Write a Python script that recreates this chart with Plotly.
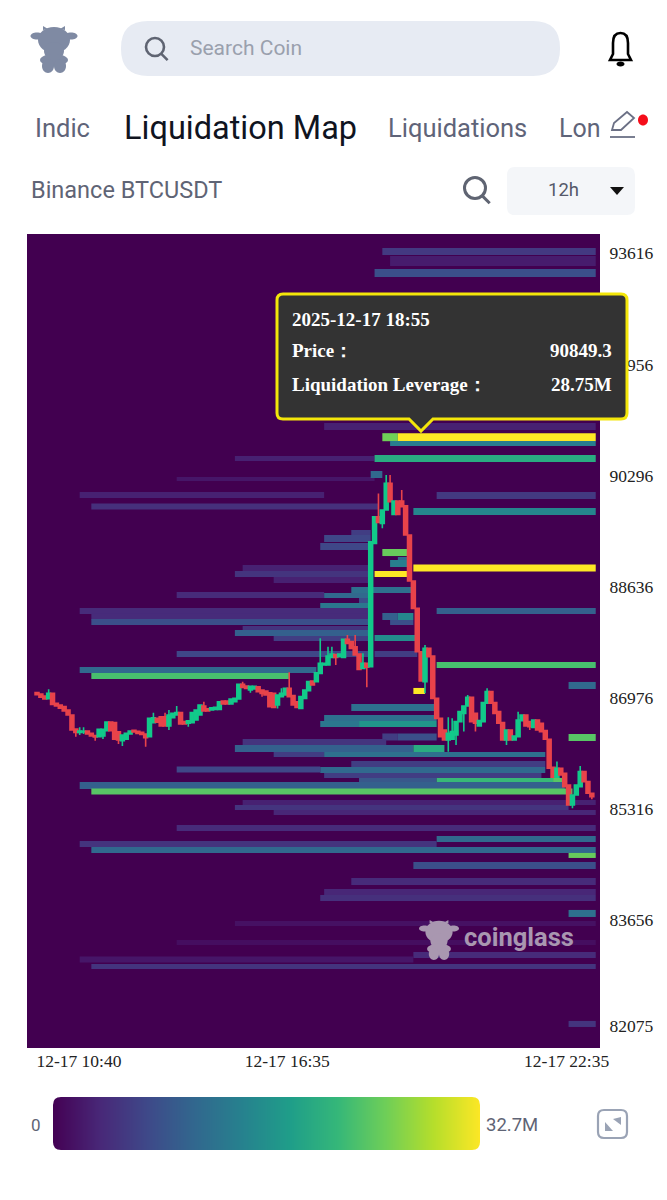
import plotly.graph_objects as go

W, H = 667, 1200

# ---- data ----
tick_prices = [93616, 91956, 90296, 88636, 86976, 85316, 83656, 82075]
time_labels = ["12-17 10:40", "12-17 16:35", "12-17 22:35"]
time_label_pos = [10.8, 64.5, 136.5]

candle_open = [87056,87036,87006,86966,87046,86896,86871,86847,86797,86722,86513,86463,86468,86483,86448,86414,86399,86409,86488,86618,
 86608,86473,86339,86359,86438,86493,86478,86463,86438,86399,86608,86672,86697,86697,86558,86682,86722,86757,86623,86598,
 86608,86647,86722,86856,86816,86796,86806,86806,86931,86931,86886,86921,86961,87180,87155,87095,87110,87145,87095,87080,
 87055,87045,86871,86996,87021,87120,87011,86921,86821,86971,87085,87230,87220,87344,87468,87468,87583,87623,87593,87583,
 87852,87817,87742,87633,87419,87493,87443,89285,89683,89583,89782,90181,89718,89917,89917,89847,89409,88722,88314,87667,
 87219,87717,87603,86971,86672,86498,86349,86359,86424,86623,86747,86857,86986,86747,86558,86623,86897,87071,86907,86772,
 86608,86349,86498,86349,86399,86638,86722,86623,86538,86648,86598,86489,86359,85941,85792,85926,85852,85677,85379,85528,
 85652,85876,85727,85553]
candle_high = [87070,87036,87006,87105,87046,86896,86871,86847,86797,86722,86513,86538,86538,86483,86448,86414,86508,86508,86618,86618,
 86608,86473,86424,86448,86483,86493,86478,86463,86438,86672,86757,86672,86697,86757,86797,86747,86856,86757,86623,86637,
 86757,86796,86871,86921,86816,86831,86836,86921,86931,86931,86961,86971,87180,87220,87155,87150,87150,87145,87095,87080,
 87055,87045,87021,87120,87120,87359,87011,86921,86996,87095,87220,87230,87354,87867,87493,87742,87742,87623,87633,87852,
 87916,87817,87916,87633,87643,87493,89310,89683,90031,89782,90305,90305,89917,89917,90081,89847,89409,88722,88314,87667,
 87767,87717,87603,86971,86672,86498,86688,86673,86623,86772,86857,87020,86986,86747,86638,86907,87121,87071,86907,86772,
 86608,86498,86498,86409,86772,86722,86722,86623,86648,86648,86598,86489,86359,85941,86026,85926,85852,85677,85528,85677,
 85961,85876,85727,85553]
candle_low = [87026,86986,86961,86966,86881,86856,86822,86782,86722,86498,86399,86424,86438,86438,86409,86339,86399,86364,86488,86488,
 86359,86289,86259,86359,86438,86468,86448,86433,86249,86399,86608,86613,86558,86558,86498,86682,86722,86588,86588,86548,
 86608,86647,86722,86782,86782,86796,86806,86806,86886,86886,86886,86921,86961,87135,87120,87055,87110,87070,86996,87021,
 86846,86836,86821,86996,87021,86996,86871,86836,86821,86971,87085,87170,87220,87344,87468,87468,87583,87468,87593,87583,
 87792,87717,87618,87404,87419,87135,87443,89285,89598,89509,89782,89907,89718,89718,89832,89409,88722,88314,87667,87229,
 87045,87593,86971,86672,86398,86349,86175,86359,86275,86623,86474,86857,86623,86474,86558,86623,86897,86897,86747,86598,
 86349,86275,86349,86349,86399,86638,86558,86498,86538,86498,86474,86359,85926,85792,85792,85827,85652,85379,85329,85528,
 85652,85727,85553,85463]
candle_close = [87026,86986,86961,87046,86881,86856,86822,86782,86722,86498,86463,86483,86478,86438,86409,86394,86508,86508,86618,86488,
 86359,86349,86424,86448,86483,86468,86448,86433,86384,86672,86682,86613,86558,86558,86722,86747,86757,86588,86588,86637,
 86757,86796,86871,86782,86782,86831,86836,86921,86886,86886,86961,86971,87180,87135,87120,87150,87150,87070,87045,87021,
 86846,86836,87021,87045,87120,86996,86871,86836,86996,87095,87220,87170,87354,87493,87493,87603,87633,87583,87633,87852,
 87792,87717,87618,87404,87493,87434,89310,89683,89598,89782,90181,89907,89917,89718,89832,89409,88722,88314,87667,87229,
 87717,87593,86971,86672,86398,86349,86449,86474,86623,86772,86857,86986,86623,86598,86638,86907,87071,86897,86747,86598,
 86349,86498,86349,86409,86648,86722,86558,86548,86648,86498,86474,86359,85926,85792,85926,85827,85652,85379,85528,85677,
 85876,85727,85553,85503]

# liquidation levels: price, thickness in price units, first/last candle index, size in millions
level_price = [93642,93500,93321,91029,90552,90552,90246,90313,90007,90000,89835,89760,89447,89357,89238,
 89059,88984,88917,88917,88827,88738,88514,88588,88506,88432,88350,88275,88275,88193,88193,88193,
 88111,88103,88021,87946,87872,87864,87633,87633,87469,87394,87304,87163,86834,86677,86588,86588,
 86386,86394,86394,86312,86222,86222,86132,86132,85991,85909,85901,85819,85737,85737,85737,85670,
 85580,85416,85341,85266,85035,84871,84796,84707,84625,84475,84236,84080,83990,83759,83609,83326,
 83139,83072,82967,82109,90870,90870,90776,89148,88827,87081]
level_size = [105,150,120,105,75,105,60,105,90,105,90,105,75,105,105,
 45,105,105,90,90,90,90,90,75,75,90,90,90,90,105,105,
 90,75,60,90,90,75,90,90,90,90,90,105,105,90,90,90,
 105,105,105,105,105,105,75,75,90,90,90,75,90,90,90,105,
 90,75,75,75,90,90,90,90,75,105,105,90,90,105,75,75,
 90,90,75,90,120,120,75,105,90,90]
level_start = [89,91,87,74,51,87,36,86,11,103,14,97,81,74,73,
 93,91,97,53,51,61,36,81,74,83,73,11,103,14,89,93,
 14,91,53,51,87,61,36,87,103,11,14,137,81,74,73,83,
 137,89,93,53,51,97,61,74,81,36,73,74,83,103,133,11,
 14,53,51,61,36,103,11,14,137,97,81,74,73,137,51,36,
 97,11,14,137,89,93,91,89,87,97]
level_end = [144,144,144,144,87,144,87,89,74,144,88,144,86,86,86,
 96,96,144,86,86,86,74,97,86,86,86,86,144,86,93,97,
 86,97,86,86,98,86,86,98,144,72,65,144,103,103,83,103,
 144,93,103,90,97,105,74,131,131,73,131,130,103,133,136,136,
 138,144,137,144,144,144,103,144,144,144,144,144,144,144,144,144,
 144,97,144,144,93,144,144,96,96,100]
level_value = [5.5,2.5,8,3,3,20,2,11,3,5.5,4.5,15,6,7,7,
 11,14,32.7,3,5,3,4,12,11,8,13,4,10,4,10,15,
 8,8,5,10,16,6,7,6,23,11,23,11,12,12,13,17,
 24,6,8,5,10,20,6,12,6,7,11,6,9,22,24,10,
 24,3,5,3.5,4,11,5,11,25,8,4,3.5,4.5,12,1.5,1.2,
 4,2,5,5,25.5,32.7,14,25,32.7,32.7]

colorbar_values = [0, 4, 8, 12, 16, 20, 24, 28, 32.7]

# ---- helpers for the page furniture (paper coordinates from pixels) ----
def P(x, y):
    return f"{x / W:.5f},{1 - y / H:.5f}"

def round_rect(x0, y0, x1, y1, r):
    return (f"M{P(x0 + r, y0)} L{P(x1 - r, y0)} Q{P(x1, y0)} {P(x1, y0 + r)} L{P(x1, y1 - r)} "
            f"Q{P(x1, y1)} {P(x1 - r, y1)} L{P(x0 + r, y1)} Q{P(x0, y1)} {P(x0, y1 - r)} "
            f"L{P(x0, y0 + r)} Q{P(x0, y0)} {P(x0 + r, y0)} Z")

def ellipse(cx, cy, rx, ry):
    k = 0.5523
    return (f"M{P(cx - rx, cy)} C{P(cx - rx, cy - k * ry)} {P(cx - k * rx, cy - ry)} {P(cx, cy - ry)} "
            f"C{P(cx + k * rx, cy - ry)} {P(cx + rx, cy - k * ry)} {P(cx + rx, cy)} "
            f"C{P(cx + rx, cy + k * ry)} {P(cx + k * rx, cy + ry)} {P(cx, cy + ry)} "
            f"C{P(cx - k * rx, cy + ry)} {P(cx - rx, cy + k * ry)} {P(cx - rx, cy)} Z")

def poly(pts):
    return "M" + " L".join(P(*p) for p in pts) + " Z"

shapes = []
def add(path, fill="rgba(0,0,0,0)", line=None, lw=0):
    shapes.append(dict(type="path", xref="paper", yref="paper", path=path, fillcolor=fill,
                       line=dict(color=line or "rgba(0,0,0,0)", width=lw), layer="above"))

def cow(cx, top, s, color):
    add(ellipse(cx - 17 * s, top + 10 * s, 6.5 * s, 3.5 * s), fill=color)
    add(ellipse(cx + 17 * s, top + 10 * s, 6.5 * s, 3.5 * s), fill=color)
    add(poly([(cx - 11 * s, top + 4 * s), (cx - 11 * s, top), (cx - 6 * s, top + 3 * s)]), fill=color)
    add(poly([(cx + 11 * s, top + 4 * s), (cx + 11 * s, top), (cx + 6 * s, top + 3 * s)]), fill=color)
    add(ellipse(cx, top + 14 * s, 16 * s, 13 * s), fill=color)
    add(ellipse(cx, top + 25 * s, 10 * s, 9 * s), fill=color)
    add(ellipse(cx, top + 34 * s, 14 * s, 6 * s), fill=color)
    add(ellipse(cx - 6 * s, top + 40 * s, 6 * s, 7 * s), fill=color)
    add(ellipse(cx + 6 * s, top + 40 * s, 6 * s, 7 * s), fill=color)

def magnifier(cx, cy, r, color, lw):
    add(ellipse(cx, cy, r, r), line=color, lw=lw)
    add(f"M{P(cx + r * .65, cy + r * .7)} L{P(cx + r * 1.4, cy + r * 1.45)}", line=color, lw=lw)

# header
cow(54, 26, 1.0, "#7f8aa3")
add(round_rect(121, 21, 560, 76, 27), fill="#e7ebf3")
magnifier(155, 47, 9, "#5f6472", 2.6)
add(f"M{P(610, 60)} L{P(631, 60)} L{P(628, 54)} L{P(628, 43)} Q{P(628, 33)} {P(620.5, 33)} Q{P(613, 33)} {P(613, 43)} L{P(613, 54)} Z",
    line="#000000", lw=2.6)
add(ellipse(620.5, 64, 4, 2.5), fill="#000000")
# pencil + red dot
add(poly([(612, 130), (614, 123), (627, 112), (634, 118), (621, 130)]), line="#6b7085", lw=1.8)
add(f"M{P(610, 137)} L{P(635, 137)}", line="#6b7085", lw=1.8)
add(ellipse(643, 120, 5, 5.5), fill="#f50d1a")
# selector
magnifier(475, 188, 10.5, "#5f6472", 3)
add(round_rect(507, 167, 635, 215, 8), fill="#f4f6f9")
add(poly([(610, 187), (624, 187), (617, 195)]), fill="#111111")
# watermark
cow(439, 920, 0.85, "#a997b0")
# tooltip
tb = (f"M{P(283, 294)} L{P(621, 294)} Q{P(627, 294)} {P(627, 300)} L{P(627, 413)} Q{P(627, 419)} {P(621, 419)} "
      f"L{P(433, 419)} L{P(421, 431)} L{P(409, 419)} L{P(283, 419)} Q{P(277, 419)} {P(277, 413)} "
      f"L{P(277, 300)} Q{P(277, 294)} {P(283, 294)} Z")
add(tb, fill="#333333", line="#f3e60a", lw=3)
# expand icon
add(round_rect(598, 1110, 627, 1138, 6), line="#9aa3b5", lw=2.2)
add(poly([(613, 1119), (621, 1117), (621, 1125)]), fill="#9aa3b5")
add(poly([(605, 1122), (605, 1131), (613, 1131)]), fill="#9aa3b5")
# rounded corners of the gradient strip
for (cx, cy, sx, sy) in [(53, 1097, 1, 1), (480, 1097, -1, 1), (53, 1150, 1, -1), (480, 1150, -1, -1)]:
    r = 8
    add(f"M{P(cx, cy)} L{P(cx + sx * r, cy)} Q{P(cx, cy)} {P(cx, cy + sy * r)} Z", fill="#ffffff")

# ---- figure ----
fig = go.Figure()
fig.add_trace(go.Bar(
    orientation="h", y=level_price, base=level_start,
    x=[e - s for s, e in zip(level_start, level_end)], width=level_size,
    marker=dict(color=level_value, colorscale="Viridis", cmin=0, cmax=32.7, line=dict(width=0)),
    hoverinfo="skip", showlegend=False))
fig.add_trace(go.Candlestick(
    x=list(range(len(candle_open))), open=candle_open, high=candle_high, low=candle_low, close=candle_close,
    increasing=dict(line=dict(color="#12c98a", width=1.6), fillcolor="#12c98a"),
    decreasing=dict(line=dict(color="#e8434a", width=1.6), fillcolor="#e8434a"),
    whiskerwidth=0, showlegend=False))
fig.add_trace(go.Heatmap(
    x=colorbar_values, y=[0, 1], z=[colorbar_values, colorbar_values], zsmooth="best",
    colorscale="Viridis", zmin=0, zmax=32.7, showscale=False, xaxis="x2", yaxis="y2", hoverinfo="skip"))

def note(text, x, y, size, color, font="Roboto", anchor="left", bold=False):
    return dict(text=f"<b>{text}</b>" if bold else text, x=x / W, y=1 - y / H, xref="paper", yref="paper",
                xanchor=anchor, yanchor="middle", showarrow=False,
                font=dict(family=font, size=size, color=color))

SERIF = "Liberation Serif"
annotations = [
    note("Search Coin", 188, 48, 21, "#9aa0ad"),
    note("Indic", 33, 128, 25.5, "#5f6479"),
    note("Liquidation Map", 122, 128, 32.5, "#10141f"),
    note("Liquidations", 386, 128, 25.5, "#5f6479"),
    note("Lon", 557, 128, 25, "#5f6479"),
    note("Binance BTCUSDT", 29, 190, 23.5, "#5f6475"),
    note("12h", 563, 190, 18.5, "#55596a", anchor="center"),
    note("coinglass", 462, 937, 25.5, "#a997b0", bold=True),
    note("2025-12-17 18:55", 290, 320, 19, "#ffffff", SERIF, bold=True),
    note("Price：", 290, 350, 19, "#ffffff", SERIF, bold=True),
    note("90849.3", 614, 350, 19, "#ffffff", SERIF, "right", True),
    note("Liquidation Leverage：", 290, 385, 19, "#ffffff", SERIF, bold=True),
    note("28.75M", 614, 385, 19, "#ffffff", SERIF, "right", True),
    note("0", 36, 1125, 17, "#5f6475", anchor="center"),
    note("32.7M", 484, 1125, 18.5, "#5f6475"),
]

fig.update_layout(
    width=W, height=H, margin=dict(l=0, r=0, t=0, b=0, pad=0, autoexpand=False), autosize=False,
    paper_bgcolor="#ffffff", plot_bgcolor="#420050",
    barmode="overlay", boxgap=0, boxgroupgap=0, dragmode=False, showlegend=False,
    shapes=shapes, annotations=annotations,
    xaxis=dict(domain=[27 / W, 600 / W], range=[-2.58, 145.1], showgrid=False, zeroline=False,
               tickmode="array", tickvals=time_label_pos, ticktext=time_labels, ticks="", showline=False,
               rangeslider=dict(visible=False), tickfont=dict(family=SERIF, size=17.5, color="#222222"),
               anchor="y"),
    yaxis=dict(domain=[1 - 1048 / H, 1 - 234 / H], range=[81750, 93904], side="right", showgrid=False, zeroline=False,
               tickmode="array", tickvals=tick_prices, ticktext=[str(v) for v in tick_prices], ticks="outside",
               ticklen=5, tickcolor="rgba(0,0,0,0)", showline=False,
               tickfont=dict(family=SERIF, size=17.5, color="#222222"), anchor="x"),
    xaxis2=dict(domain=[53 / W, 480 / W], range=[0, 32.7], visible=False, anchor="y2"),
    yaxis2=dict(domain=[1 - 1150 / H, 1 - 1097 / H], range=[0, 1], visible=False, anchor="x2"),
)
fig.write_html("out.html", post_script="document.body.style.margin='0';", config=dict(displayModeBar=False))
